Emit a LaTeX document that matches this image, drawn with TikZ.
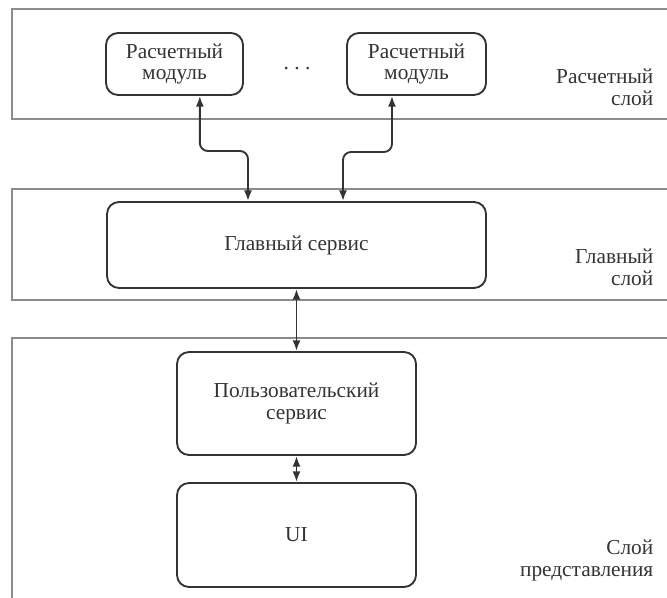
\documentclass[tikz,border=0pt]{standalone}
\usepackage{fontspec}
\setmainfont{Liberation Serif}
\usetikzlibrary{arrows.meta}
\definecolor{layergray}{HTML}{8C8C8C}
\definecolor{boxgray}{HTML}{333333}
\tikzset{
  layer/.style={draw=layergray, line width=1.5pt},
  module/.style={draw=boxgray, line width=1.4pt, rounded corners=9pt, align=center,
    text=boxgray, font=\fontsize{16}{16}\selectfont},
  layername/.style={anchor=east, align=right, text=boxgray, font=\fontsize{16}{16.5}\selectfont},
  link/.style={{Latex[length=8pt,width=6pt]}-{Latex[length=8pt,width=6pt]},
    draw=boxgray, line width=1.4pt, rounded corners=6pt}
}
\begin{document}
\begin{tikzpicture}[x=0.75pt,y=-0.75pt]
\clip (0,0) rectangle (667,598);
\draw[layer] (12,9) rectangle (690,119);
\draw[layer] (12,189) rectangle (690,300);
\draw[layer] (12,338) rectangle (690,620);
\node[module, minimum width=102.75pt, minimum height=46.5pt] (calcA) at (174.5,64) {Расчетный\\модуль};
\node[module, minimum width=104.25pt, minimum height=46.5pt] (calcB) at (416.5,64) {Расчетный\\модуль};
\node[text=boxgray, font=\fontsize{16}{16}\selectfont, anchor=base] (gap) at (297,70) {.\ .\ .};
\node[module, minimum width=284.25pt, minimum height=64.5pt] (main) at (296.5,245) {Главный сервис};
\node[module, minimum width=179.25pt, minimum height=77.25pt] (user) at (296.5,403.5) {Пользовательский\\сервис};
\node[module, minimum width=179.25pt, minimum height=78pt] (ui) at (296.5,535) {UI};
\node[layername] (calcname) at (658,87) {Расчетный\\слой};
\node[layername] (mainname) at (658,267) {Главный\\слой};
\node[layername] (viewname) at (658,560) {Слой\\представления};
\coordinate (bendA) at (248,151);
\coordinate (bendB) at (343,152);
\draw[link] ([xshift=19pt]calcA.south) |- (bendA) -- (bendA |- main.north);
\draw[link] ([xshift=-18.4pt]calcB.south) |- (bendB) -- (bendB |- main.north);
\draw[link] (main.south) -- (user.north);
\draw[link] (user.south) -- (ui.north);
\end{tikzpicture}
\end{document}
